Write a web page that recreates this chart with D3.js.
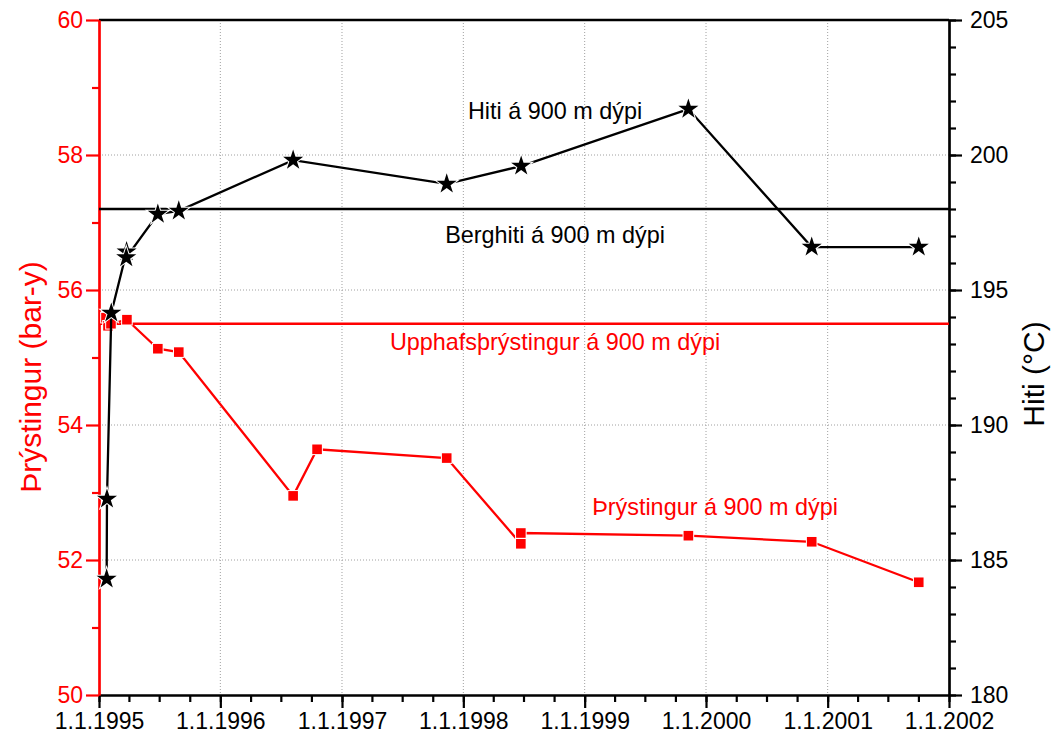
<!DOCTYPE html>
<html>
<head>
<meta charset="utf-8">
<script src="https://cdn.jsdelivr.net/npm/d3@7"></script>
<style>
  html, body { margin: 0; padding: 0; background: #fff; }
  svg { display: block; font-family: "Liberation Sans", Arial, Helvetica, sans-serif; }
</style>
</head>
<body>
<svg id="chart" width="1051" height="740"></svg>
<script>
// Pressure at 900 m depth (bar-y), left axis
const pressureDates = ["1995-01-22", "1995-01-28", "1995-02-06", "1995-03-26", "1995-06-27", "1995-08-29",
  "1996-08-07", "1996-10-18", "1997-11-12", "1998-06-23", "1998-06-23", "1999-11-09", "2000-11-14", "2001-10-02"];
const pressureValues = [55.59, 55.47, 55.50, 55.56, 55.13, 55.08, 52.95, 53.64, 53.51, 52.24, 52.40, 52.36, 52.27, 51.67];

// Temperature at 900 m depth (°C), right axis
const tempDates = ["1995-01-24", "1995-01-25", "1995-02-07", "1995-03-25", "1995-03-24", "1995-06-27", "1995-08-29",
  "1996-08-07", "1997-11-12", "1998-06-24", "1999-11-09", "2000-11-14", "2001-10-02"];
const tempValues = [184.3, 187.26, 194.15, 196.42, 196.2, 197.81, 197.93, 199.81, 198.93, 199.59, 201.70, 196.59, 196.59];

// Reference levels
const initialPressure = 55.5;   // Upphafsþrýstingur
const rockTemperature = 198.0;  // Berghiti

// Axis ticks
const yearTicks = ["1995-01-01", "1996-01-01", "1997-01-01", "1998-01-01", "1999-01-01", "2000-01-01", "2001-01-01", "2002-01-01"];
const pressureTicks = [50, 52, 54, 56, 58, 60];
const tempTicks = [180, 185, 190, 195, 200, 205];

const parse = d3.utcParse("%Y-%m-%d");
const fmtYear = d3.utcFormat("1.1.%Y");

const plotL = 99, plotR = 949, plotT = 20, plotB = 695;
const RED = "#ff0000";
const LINE_W = 2.3;

const svg = d3.select("#chart");

const x = d3.scaleUtc().domain([parse("1995-01-01"), parse("2002-01-01")]).range([plotL, plotR]);
const yP = d3.scaleLinear().domain([50, 60]).range([plotB, plotT]);
const yT = d3.scaleLinear().domain([180, 205]).range([plotB, plotT]);

// Dotted grid
const grid = svg.append("g").attr("stroke", "#a0a0a0").attr("stroke-width", 1).attr("stroke-dasharray", "1,2");
grid.selectAll("line.v").data(yearTicks.slice(1, -1).map(parse)).join("line").attr("class", "v")
  .attr("x1", d => x(d)).attr("x2", d => x(d)).attr("y1", plotT).attr("y2", plotB);
grid.selectAll("line.h").data(pressureTicks.slice(1, -1)).join("line").attr("class", "h")
  .attr("x1", plotL).attr("x2", plotR).attr("y1", d => yP(d)).attr("y2", d => yP(d));

// Top frame
svg.append("line").attr("x1", plotL).attr("x2", plotR).attr("y1", plotT).attr("y2", plotT)
  .attr("stroke", "#000").attr("stroke-width", 2.5);

function styleAxis(g, color) {
  g.select(".domain").attr("stroke", color).attr("stroke-width", 2.2);
  g.selectAll(".tick line").attr("stroke", color).attr("stroke-width", 2.2);
  g.selectAll(".tick text").attr("fill", color).style("font-size", "23px")
    .style("font-family", "'Liberation Sans', Arial, sans-serif");
}

// Bottom axis: quarterly minor ticks, yearly major ticks
const xMinor = d3.axisBottom(x).ticks(d3.utcMonth.every(3)).tickSize(7).tickFormat("").tickSizeOuter(0);
svg.append("g").attr("transform", `translate(0,${plotB})`).call(xMinor).call(g => styleAxis(g, "#000"));
const xMajor = d3.axisBottom(x).tickValues(yearTicks.map(parse)).tickSize(13).tickSizeOuter(0).tickFormat(fmtYear).tickPadding(5);
svg.append("g").attr("transform", `translate(0,${plotB})`).call(xMajor).call(g => styleAxis(g, "#000"));

// Left (pressure) axis
const pMinor = d3.axisLeft(yP).tickValues(d3.range(51, 60, 2)).tickSize(7).tickFormat("").tickSizeOuter(0);
svg.append("g").attr("transform", `translate(${plotL},0)`).call(pMinor).call(g => styleAxis(g, RED));
const pMajor = d3.axisLeft(yP).tickValues(pressureTicks).tickSize(13).tickSizeOuter(0).tickPadding(3);
svg.append("g").attr("transform", `translate(${plotL},0)`).call(pMajor).call(g => styleAxis(g, RED));

// Right (temperature) axis
const tMinor = d3.axisRight(yT).tickValues(d3.range(180, 206, 1)).tickSize(7).tickFormat("").tickSizeOuter(0);
svg.append("g").attr("transform", `translate(${plotR},0)`).call(tMinor).call(g => styleAxis(g, "#000"));
const tMajor = d3.axisRight(yT).tickValues(tempTicks).tickSize(13).tickSizeOuter(0).tickPadding(8);
svg.append("g").attr("transform", `translate(${plotR},0)`).call(tMajor).call(g => styleAxis(g, "#000"));

// Reference lines
svg.append("line").attr("x1", plotL).attr("x2", plotR)
  .attr("y1", yP(initialPressure)).attr("y2", yP(initialPressure))
  .attr("stroke", RED).attr("stroke-width", LINE_W);
svg.append("line").attr("x1", plotL).attr("x2", plotR)
  .attr("y1", yT(rockTemperature)).attr("y2", yT(rockTemperature))
  .attr("stroke", "#000").attr("stroke-width", LINE_W);

// Pressure series
const pData = pressureDates.map((d, i) => ({ date: parse(d), v: pressureValues[i] }));
svg.append("path").datum(pData)
  .attr("fill", "none").attr("stroke", RED).attr("stroke-width", LINE_W)
  .attr("d", d3.line().x(d => x(d.date)).y(d => yP(d.v)));
svg.selectAll("rect.p").data(pData).join("rect").attr("class", "p")
  .attr("x", d => x(d.date) - 4.8).attr("y", d => yP(d.v) - 4.8)
  .attr("width", 9.6).attr("height", 9.6)
  .attr("fill", RED).attr("stroke", "#fff").attr("stroke-width", 2).style("paint-order", "stroke");

// Temperature series
const tData = tempDates.map((d, i) => ({ date: parse(d), v: tempValues[i] }));
svg.append("path").datum(tData)
  .attr("fill", "none").attr("stroke", "#000").attr("stroke-width", LINE_W)
  .attr("d", d3.line().x(d => x(d.date)).y(d => yT(d.v)));
svg.selectAll("path.t").data(tData).join("path").attr("class", "t")
  .attr("transform", d => `translate(${x(d.date)},${yT(d.v)})`)
  .attr("d", d3.symbol(d3.symbolStar, 125))
  .attr("fill", "#000").attr("stroke", "#fff").attr("stroke-width", 2).style("paint-order", "stroke");

// Annotations
const notes = [
  { text: "Hiti á 900 m dýpi", x: 555, y: 119, color: "#000" },
  { text: "Berghiti á 900 m dýpi", x: 555, y: 243, color: "#000" },
  { text: "Upphafsþrýstingur á 900 m dýpi", x: 555, y: 350, color: RED },
  { text: "Þrýstingur á 900 m dýpi", x: 715, y: 515, color: RED }
];
svg.selectAll("text.note").data(notes).join("text").attr("class", "note")
  .attr("x", d => d.x).attr("y", d => d.y).attr("text-anchor", "middle")
  .attr("fill", d => d.color).style("font-size", "23.4px").text(d => d.text);

// Axis titles
svg.append("text").attr("transform", "translate(41,377) rotate(-90)")
  .attr("text-anchor", "middle").attr("fill", RED).style("font-size", "30px")
  .text("Þrýstingur (bar-y)");
svg.append("text").attr("transform", "translate(1044,374) rotate(-90)")
  .attr("text-anchor", "middle").attr("fill", "#000").style("font-size", "30px")
  .text("Hiti (°C)");
</script>
</body>
</html>
